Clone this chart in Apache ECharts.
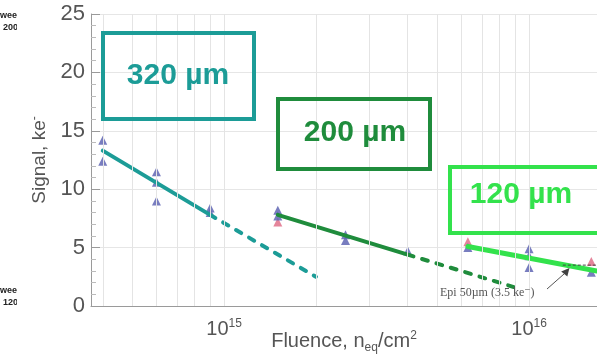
<!DOCTYPE html>
<html>
<head>
<meta charset="utf-8">
<script src="https://cdn.jsdelivr.net/npm/echarts@6/dist/echarts.min.js"></script>
<style>
  html, body { margin: 0; padding: 0; background: #fff; }
  #chart { width: 597px; height: 359px; }
</style>
</head>
<body>
<div id="chart"></div>
<script>
// Axis ranges (fluence in n_eq/cm^2, signal in ke-)
const xMin = 3.66e14;
const xMax = 1.67e16;
const yTicks = [0, 5, 10, 15, 20, 25];

// Measured points per sensor thickness
const fluence320 = [4e14, 4e14, 6e14, 6e14, 6e14, 9e14, 9e14];
const signal320  = [14.2, 12.4, 11.5, 10.6, 9.0, 8.4, 8.0];

const fluence200 = [1.5e15, 1.5e15, 2.5e15, 2.5e15, 4e15];
const signal200  = [8.2, 7.7, 6.1, 5.6, 4.7];

const fluence120 = [6.3e15, 1e16, 1e16, 1e16, 1.6e16];
const signal120  = [5.0, 4.9, 4.3, 3.3, 2.9];

// Second batch of points (reddish markers)
const fluenceB = [1.5e15, 6.3e15, 1.6e16];
const signalB  = [7.2, 5.5, 3.8];

// Fitted trends: solid within measured range, dashed extrapolation
const fit320X = [4e14, 9e14];      const fit320Y = [13.3, 7.8];
const ext320X = [9e14, 2e15];      const ext320Y = [7.8, 2.5];
const fit200X = [1.5e15, 4e15];    const fit200Y = [7.8, 4.4];
const ext200X = [4e15, 9.5e15];    const ext200Y = [4.4, 1.4];
const fit120X = [6.3e15, 1.67e16]; const fit120Y = [5.1, 3.0];

// Epi 50 µm reference level
const epiX = [1.29e16, 1.67e16];   const epiY = [3.5, 3.5];
const epiMarkX = [1.33e16];        const epiMarkY = [3.0];

// Minor log gridlines
const gridFluence = [4e14, 5e14, 6e14, 7e14, 8e14, 9e14, 1e15,
  2e15, 3e15, 4e15, 5e15, 6e15, 7e15, 8e15, 9e15, 1e16];

const teal = '#1c9c97';
const darkGreen = '#1f8c3c';
const brightGreen = '#33e24c';
const axisGray = '#9a9a9a';
const labelGray = '#555';
const sans = '"Liberation Sans", Arial, sans-serif';

function pairs(xs, ys) { return xs.map((x, i) => [x, ys[i]]); }

const chart = echarts.init(document.getElementById('chart'), null, { renderer: 'canvas' });

function lineSeries(xs, ys, color, dashed, width) {
  return {
    type: 'line',
    data: pairs(xs, ys),
    symbol: 'none',
    silent: true,
    z: 3,
    lineStyle: { color: color, width: width || 4, type: dashed ? [6, 9] : 'solid', cap: 'round' }
  };
}

function markerSeries(xs, ys, color) {
  return {
    type: 'scatter',
    data: pairs(xs, ys),
    symbol: 'triangle',
    symbolSize: 9,
    z: 2,
    itemStyle: { color: color, opacity: 0.85 }
  };
}

function boxLabel(x, y, text, color) {
  return { type: 'text', x: x, y: y, z: 11,
    style: { text: text, fill: color, font: 'bold 30px ' + sans, textAlign: 'center', textVerticalAlign: 'middle' } };
}

function note(x, y, text) {
  return { type: 'text', x: x, y: y, z: 20,
    style: { text: text, fill: '#222', font: 'bold 9px ' + sans, textVerticalAlign: 'middle' } };
}

const option = {
  animation: false,
  backgroundColor: '#fff',
  grid: { left: 91, right: 0, top: 14, bottom: 53, containLabel: false, outerBoundsMode: 'none' },
  xAxis: {
    type: 'log',
    logBase: 10,
    min: xMin,
    max: xMax,
    axisLine: { show: true, lineStyle: { color: axisGray, width: 1 } },
    axisTick: { show: false },
    splitLine: { show: false },
    axisLabel: {
      showMinLabel: false,
      showMaxLabel: false,
      margin: 12,
      formatter: function (v) {
        const e = Math.log10(v);
        if (Math.abs(e - Math.round(e)) > 1e-6) return '';
        return '{b|10}{s|' + Math.round(e) + '}';
      },
      rich: {
        b: { fontSize: 20, color: labelGray, fontFamily: sans },
        s: { fontSize: 12, color: labelGray, fontFamily: sans, verticalAlign: 'top', padding: [0, 0, 10, 0] }
      }
    },
    name: '{t|Fluence, n}{sub|eq}{t|/cm}{sup|2}',
    nameLocation: 'middle',
    nameMoveOverlap: false,
    nameGap: 22,
    nameTextStyle: {
      rich: {
        t: { fontSize: 20, color: labelGray, fontFamily: sans },
        sub: { fontSize: 12, color: labelGray, fontFamily: sans, padding: [14, 0, 0, 0] },
        sup: { fontSize: 12, color: labelGray, fontFamily: sans, padding: [0, 0, 10, 0] }
      }
    }
  },
  yAxis: {
    type: 'value',
    min: yTicks[0],
    max: yTicks[yTicks.length - 1],
    interval: 5,
    axisLine: { show: true, lineStyle: { color: axisGray, width: 1 } },
    axisTick: { show: true, inside: true, length: 9, lineStyle: { color: axisGray } },
    minorTick: { show: true, splitNumber: 5, length: 5, lineStyle: { color: '#bbb' } },
    splitLine: { show: true, lineStyle: { color: '#e6e6e6', width: 1 } },
    axisLabel: {
      margin: 6,
      fontSize: 22,
      color: labelGray,
      fontFamily: sans
    },
    name: '{t|Signal, ke}{sup|-}',
    nameLocation: 'middle',
    nameMoveOverlap: false,
    nameGap: 40,
    nameRotate: 90,
    nameTextStyle: {
      rich: {
        t: { fontSize: 19, color: labelGray, fontFamily: sans },
        sup: { fontSize: 12, color: labelGray, fontFamily: sans, padding: [0, 0, 10, 0] }
      }
    }
  },
  series: [
    {
      type: 'line',
      data: [],
      silent: true,
      markLine: {
        silent: true,
        symbol: 'none',
        label: { show: false },
        lineStyle: { color: '#e4e4e4', width: 1, type: 'solid' },
        data: gridFluence.map(v => ({ xAxis: v }))
      }
    },
    markerSeries(fluenceB, signalB, '#e0708a'),
    markerSeries(fluence320, signal320, '#6066b4'),
    markerSeries(fluence200, signal200, '#6066b4'),
    markerSeries(fluence120, signal120, '#6066b4'),
    lineSeries(fit320X, fit320Y, teal, false),
    lineSeries(ext320X, ext320Y, teal, true),
    lineSeries(fit200X, fit200Y, darkGreen, false),
    lineSeries(ext200X, ext200Y, darkGreen, true),
    lineSeries(fit120X, fit120Y, brightGreen, false, 5),
    {
      type: 'line',
      data: pairs(epiX, epiY),
      symbol: 'none',
      silent: true,
      z: 4,
      lineStyle: { color: '#444', width: 1, type: [3, 2] }
    },
    {
      type: 'scatter',
      data: pairs(epiMarkX, epiMarkY),
      symbol: 'triangle',
      symbolSize: 8,
      symbolRotate: -40,
      z: 5,
      itemStyle: { color: '#111' }
    }
  ],
  graphic: [
    // thickness labels
    { type: 'rect', shape: { x: 103, y: 33, width: 151, height: 86 },
      style: { fill: 'none', stroke: teal, lineWidth: 4 }, z: 10 },
    boxLabel(178, 76, '320 µm', teal),
    { type: 'rect', shape: { x: 278, y: 99, width: 152, height: 70 },
      style: { fill: 'none', stroke: darkGreen, lineWidth: 4 }, z: 10 },
    boxLabel(355, 133, '200 µm', darkGreen),
    { type: 'rect', shape: { x: 450, y: 167, width: 160, height: 66 },
      style: { fill: 'none', stroke: brightGreen, lineWidth: 4 }, z: 10 },
    boxLabel(521, 195, '120 µm', brightGreen),
    // epi annotation
    { type: 'line', shape: { x1: 547, y1: 289, x2: 564, y2: 274 }, style: { stroke: '#555', lineWidth: 1 }, z: 6 },
    { type: 'text', x: 440, y: 293, z: 6,
      style: { text: 'Epi 50µm (3.5 ke⁻)', fill: '#555', font: '12px "Liberation Serif", "DejaVu Serif", serif', textVerticalAlign: 'middle' } },
    // side-note fragments at the left edge
    note(0, 16, 'wee'),
    note(3, 28, '200'),
    note(0, 291, 'wee'),
    note(3, 303, '120'),
    { type: 'rect', shape: { x: 17, y: 8, width: 14, height: 28 }, style: { fill: '#fff' }, z: 21 },
    { type: 'rect', shape: { x: 17, y: 283, width: 14, height: 28 }, style: { fill: '#fff' }, z: 21 }
  ]
};

chart.setOption(option);
</script>
</body>
</html>
